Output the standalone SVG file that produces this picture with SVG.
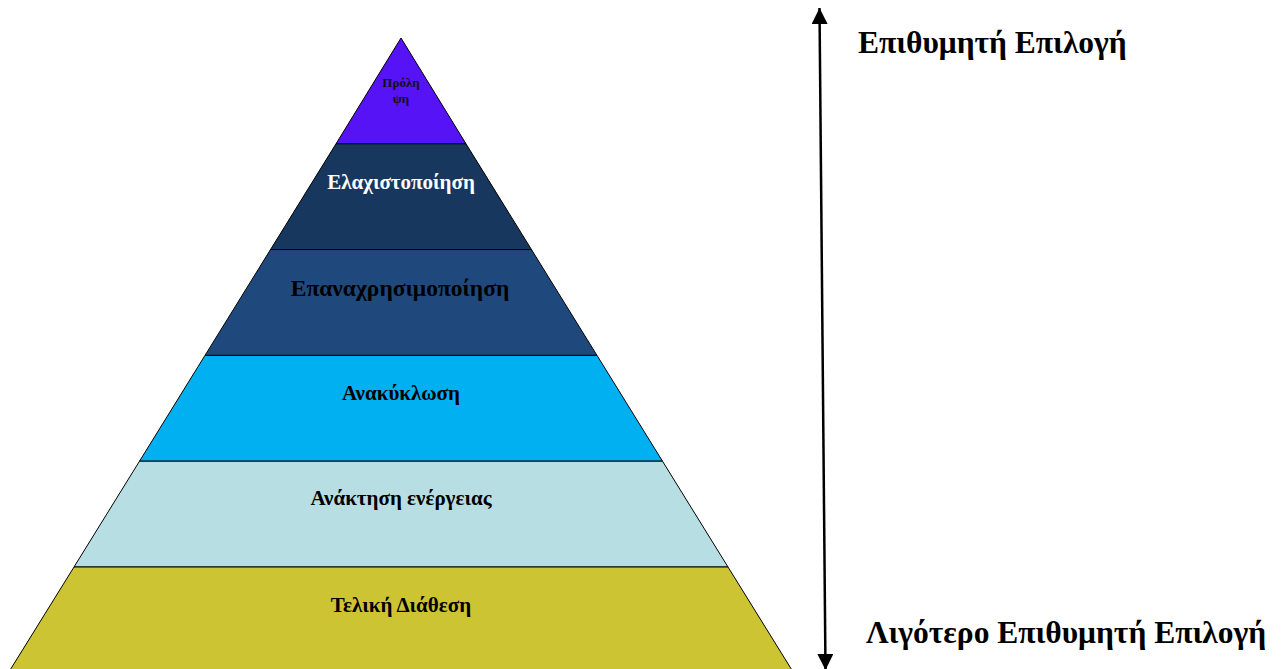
<svg xmlns="http://www.w3.org/2000/svg" width="1287" height="669" viewBox="0 0 1287 669">
<style>
.band{stroke:#000;stroke-width:1;stroke-linejoin:miter}
.t{font-family:"Liberation Serif","DejaVu Serif",serif;font-weight:bold;text-anchor:middle}
.lab{font-size:21px}
.side{font-family:"Liberation Serif","DejaVu Serif",serif;font-weight:bold;font-size:31.5px}
</style>
<defs>
<marker id="ah" viewBox="0 0 10 10" refX="10" refY="5" markerWidth="16" markerHeight="16" markerUnits="userSpaceOnUse" orient="auto-start-reverse">
<path d="M0,0 L10,5 L0,10 Z" fill="#000"/>
</marker>
</defs>
<rect width="1287" height="669" fill="#fff"/>
<g id="band-prolipsi">
<polygon class="band" fill="#5613F5" points="401,38 466,143.8 336,143.8"/>
<text class="t" x="401" y="87" font-size="13" fill="#111">Πρόλη</text>
<text class="t" x="401" y="103" font-size="13" fill="#111">ψη</text>
</g>
<g id="band-elaxistopoiisi">
<polygon class="band" fill="#17375E" points="336,143.8 466,143.8 531.5,249.6 270.5,249.6"/>
<text class="t lab" x="401" y="189" fill="#fff">Ελαχιστοποίηση</text>
</g>
<g id="band-epanaxrisimopoiisi">
<polygon class="band" fill="#1F497D" points="270.5,249.6 531.5,249.6 597,355.4 205,355.4"/>
<text class="t" x="400" y="296" font-size="23.5" fill="#000">Επαναχρησιμοποίηση</text>
</g>
<g id="band-anakyklosi">
<polygon class="band" fill="#00B0F0" points="205,355.4 597,355.4 662.5,461.2 139.5,461.2"/>
<text class="t lab" x="401" y="400" fill="#000">Ανακύκλωση</text>
</g>
<g id="band-anaktisi">
<polygon class="band" fill="#B7DEE3" points="139.5,461.2 662.5,461.2 728,567 74,567"/>
<text class="t lab" x="401" y="505" fill="#000">Ανάκτηση ενέργειας</text>
</g>
<g id="band-teliki">
<polygon class="band" fill="#CCC433" points="74,567 728,567 795,675 7,675"/>
<text class="t lab" x="401" y="612" fill="#000">Τελική Διάθεση</text>
</g>
<g id="connectors">
<line x1="819.5" y1="8" x2="825.5" y2="670" stroke="#000" stroke-width="2.5" marker-start="url(#ah)" marker-end="url(#ah)"/>
</g>
<g id="label-top">
<text class="side" x="858" y="53">Επιθυμητή Επιλογή</text>
</g>
<g id="label-bottom">
<text class="side" x="866" y="643">Λιγότερο Επιθυμητή Επιλογή</text>
</g>
</svg>
